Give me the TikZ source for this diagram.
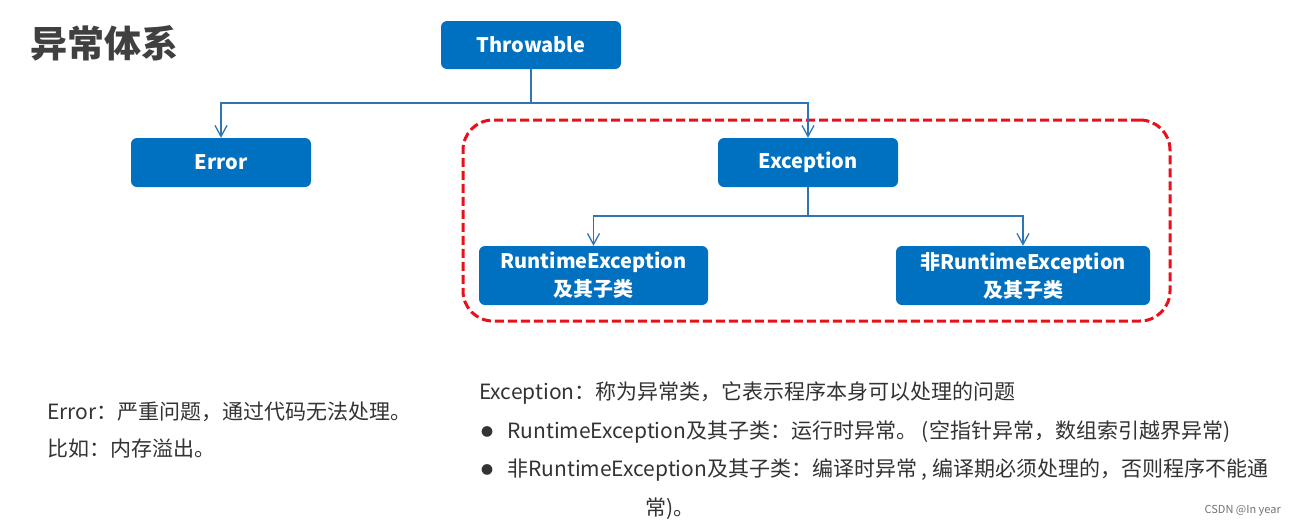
\documentclass[tikz,border=0pt]{standalone}
\usepackage{fontspec}
\setmainfont{Noto Sans CJK SC}
\usetikzlibrary{arrows.meta}
\definecolor{boxblue}{HTML}{0070C0}
\definecolor{lineblue}{HTML}{2E75B6}
\definecolor{dashred}{HTML}{E8101A}
\definecolor{txt}{HTML}{333333}
\tikzset{
  cbox/.style={draw=none,fill=boxblue,rounded corners=6pt,text=white,font=\fontsize{20}{28}\selectfont\bfseries,inner sep=0pt,align=center},
  conn/.style={draw=lineblue,line width=1.5pt},
  carr/.style={conn,-{Straight Barb[length=11pt,width=12pt,line width=1.3pt]}},
  body/.style={anchor=west,text=txt,font=\fontsize{21}{25}\selectfont,inner sep=0pt},
  grp/.style={draw=dashred,line width=3pt,dash pattern=on 9pt off 4pt,rounded corners=30pt,inner sep=0pt}
}
\begin{document}
\begin{tikzpicture}[x=1pt,y=-1pt]
\useasboundingbox[fill=white] (0,0) rectangle (1296,528);
\node[anchor=west,text=black!75,font=\fontsize{37}{42}\selectfont\bfseries,inner sep=0pt] (title) at (30,43) {异常体系};
\node[grp,minimum width=707pt,minimum height=201pt] (group) at (816.5,220.5) {};
\node[cbox,minimum width=180pt,minimum height=48pt] (thr) at (531,45) {Throwable};
\node[cbox,minimum width=180pt,minimum height=49pt] (err) at (221,162.5) {Error};
\node[cbox,minimum width=180pt,minimum height=49pt] (exc) at (808,162.5) {Exception};
\node[cbox,minimum width=229pt,minimum height=59pt] (rte) at (593.5,275.5) {RuntimeException\\及其子类};
\node[cbox,minimum width=254pt,minimum height=59pt] (nrte) at (1023,275.5) {非RuntimeException\\及其子类};
\coordinate (j1) at (531,103);
\coordinate (j2) at (808,216);
\draw[conn] (thr.south) -- (j1);
\draw[carr] (j1) -| (err.north);
\draw[carr] (j1) -| (exc.north);
\draw[conn] (exc.south) -- (j2);
\draw[carr] (j2) -| (rte.north);
\draw[carr] (j2) -| (nrte.north);
\node[body] (t1) at (47,412) {Error：严重问题，通过代码无法处理。};
\node[body] (t2) at (47,449) {比如：内存溢出。};
\node[body] (t3) at (479,393) {Exception：称为异常类，它表示程序本身可以处理的问题};
\node[body,font=\fontsize{12}{14}\selectfont] (b1) at (481,432) {●};
\node[body] (t4) at (507,432) {RuntimeException及其子类：运行时异常。 (空指针异常，数组索引越界异常)};
\node[body,font=\fontsize{12}{14}\selectfont] (b2) at (481,470) {●};
\node[body] (t5) at (507,470) {非RuntimeException及其子类：编译时异常 , 编译期必须处理的，否则程序不能通};
\node[body] (t6) at (645,509) {常)。};
\node[anchor=east,text=black!55,font=\fontsize{11}{13}\selectfont,inner sep=0pt] (wm) at (1281,511) {CSDN @In year};
\end{tikzpicture}
\end{document}
